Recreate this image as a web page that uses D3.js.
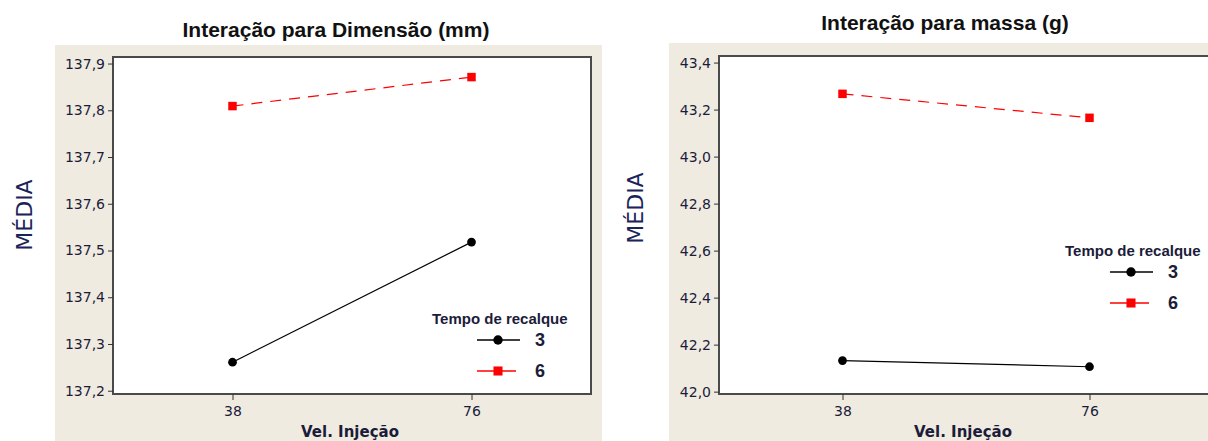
<!DOCTYPE html>
<html lang="pt">
<head>
  <meta charset="UTF-8">
  <title>Interação</title>
  <script src="https://d3js.org/d3.v7.min.js"></script>
  <style>
    body { margin: 0; background: #fff; }
    svg { display: block; }
    .tick-lbl { font-family: "DejaVu Sans", sans-serif; font-size: 14px; fill: #1c1c3a; }
    .ytitle { font-family: "DejaVu Sans", sans-serif; font-size: 22px; fill: #1b2458; }
    .xtitle { font-family: "DejaVu Sans", sans-serif; font-size: 15px; font-weight: bold; fill: #1c1c3a; }
    .title { font-family: "Liberation Sans", Arial, sans-serif; font-size: 21px; font-weight: bold; fill: #111; }
    .leg-title { font-family: "Liberation Sans", Arial, sans-serif; font-size: 15px; font-weight: bold; fill: #1c1c3a; }
    .leg-num { font-family: "Liberation Sans Narrow", "Liberation Sans", Arial, sans-serif; font-size: 18px; font-weight: bold; fill: #1c1c3a; }
  </style>
</head>
<body>
<script>
// dados
const velocidades = ["38", "76"];
const tempos = ["3", "6"];
const dimensao3 = [137.261, 137.518];
const dimensao6 = [137.809, 137.871];
const massa3 = [42.132, 42.106];
const massa6 = [43.267, 43.165];
const dimTicks = [137.2, 137.3, 137.4, 137.5, 137.6, 137.7, 137.8, 137.9];
const massaTicks = [42.0, 42.2, 42.4, 42.6, 42.8, 43.0, 43.2, 43.4];

const fmt = d3.formatLocale({ decimal: ",", thousands: ".", grouping: [3], currency: ["", ""] }).format(".1f");

const width = 1208, height = 441;
const svg = d3.select("body").append("svg")
  .attr("width", width)
  .attr("height", height);

const panels = [
  {
    title: "Interação para Dimensão (mm)", titleX: 336, titleY: 37,
    bg: [55, 45, 547], left: 113, right: 591, top: 57, bottom: 394,
    domain: [137.193, 137.914], ticks: dimTicks,
    series: [dimensao3, dimensao6], yTitleX: 24, yTitleY: 215, xTitleX: 350,
    legX: 432, legY: 324, legItemY: [340, 371], numX: 535
  },
  {
    title: "Interação para massa (g)", titleX: 945, titleY: 30,
    bg: [669, 43, 545], left: 719, right: 1213, top: 56, bottom: 394,
    domain: [41.99, 43.428], ticks: massaTicks,
    series: [massa3, massa6], yTitleX: 635, yTitleY: 208, xTitleX: 963,
    legX: 1065, legY: 256, legItemY: [272, 303], numX: 1168
  }
];

const estilos = [
  { color: "#000", dash: null, symbol: d3.symbolCircle, size: 60 },
  { color: "#ff0000", dash: "11,8", symbol: d3.symbolSquare, size: 72 }
];

panels.forEach(p => {
  const g = svg.append("g");

  // fundo bege
  g.append("rect")
    .attr("x", p.bg[0]).attr("y", p.bg[1])
    .attr("width", p.bg[2]).attr("height", height - p.bg[1])
    .attr("fill", "#efebe1");

  g.append("rect")
    .attr("x", p.left).attr("y", p.top)
    .attr("width", p.right - p.left).attr("height", p.bottom - p.top)
    .attr("fill", "#fff")
    .attr("stroke", "#4a4a4a")
    .attr("stroke-width", 2);

  const x = d3.scalePoint().domain(velocidades).range([p.left, p.right]).padding(0.5);
  const y = d3.scaleLinear().domain(p.domain).range([p.bottom, p.top]);

  // eixo y
  const yAxis = g.append("g")
    .attr("transform", `translate(${p.left},0)`)
    .call(d3.axisLeft(y).tickValues(p.ticks).tickFormat(fmt).tickSize(5).tickPadding(3));
  yAxis.select(".domain").remove();
  yAxis.selectAll("line").attr("stroke", "#333");
  yAxis.selectAll("text").attr("class", "tick-lbl").attr("font-size", null).attr("font-family", null);

  // eixo x
  const xAxis = g.append("g")
    .attr("transform", `translate(0,${p.bottom})`)
    .call(d3.axisBottom(x).tickSize(6).tickPadding(6));
  xAxis.select(".domain").remove();
  xAxis.selectAll("line").attr("stroke", "#333");
  xAxis.selectAll("text").attr("class", "tick-lbl").attr("font-size", null).attr("font-family", null);

  g.append("text")
    .attr("class", "xtitle")
    .attr("x", p.xTitleX)
    .attr("y", 437)
    .attr("text-anchor", "middle")
    .text("Vel. Injeção");

  g.append("text")
    .attr("class", "ytitle")
    .attr("transform", `translate(${p.yTitleX + 8},${p.yTitleY}) rotate(-90)`)
    .attr("text-anchor", "middle")
    .text("MÉDIA");

  g.append("text")
    .attr("class", "title")
    .attr("x", p.titleX).attr("y", p.titleY)
    .attr("text-anchor", "middle")
    .text(p.title);

  // linhas
  p.series.forEach((vals, i) => {
    const st = estilos[i];
    const pts = velocidades.map((v, j) => [x(v), y(vals[j])]);
    g.append("path")
      .attr("d", d3.line()(pts))
      .attr("fill", "none")
      .attr("stroke", st.color)
      .attr("stroke-width", 1.2)
      .attr("stroke-dasharray", st.dash);
    g.selectAll(null).data(pts).enter().append("path")
      .attr("transform", d => `translate(${d[0]},${d[1]})`)
      .attr("d", d3.symbol(st.symbol, st.size))
      .attr("fill", st.color);
  });

  // legenda
  g.append("text")
    .attr("class", "leg-title")
    .attr("x", p.legX).attr("y", p.legY)
    .text("Tempo de recalque");

  tempos.forEach((t, i) => {
    const st = estilos[i];
    const ly = p.legItemY[i];
    const lx0 = p.legX + 45, lx1 = p.legX + (i === 0 ? 88 : 84);
    g.append("line")
      .attr("x1", lx0).attr("x2", lx1)
      .attr("y1", ly).attr("y2", ly)
      .attr("stroke", st.color)
      .attr("stroke-width", 1.3);
    g.append("path")
      .attr("transform", `translate(${p.legX + 66},${ly})`)
      .attr("d", d3.symbol(st.symbol, st.size + 10))
      .attr("fill", st.color);
    g.append("text")
      .attr("class", "leg-num")
      .attr("x", p.numX).attr("y", ly)
      .attr("dy", "0.35em")
      .text(t);
  });
});
</script>
</body>
</html>
